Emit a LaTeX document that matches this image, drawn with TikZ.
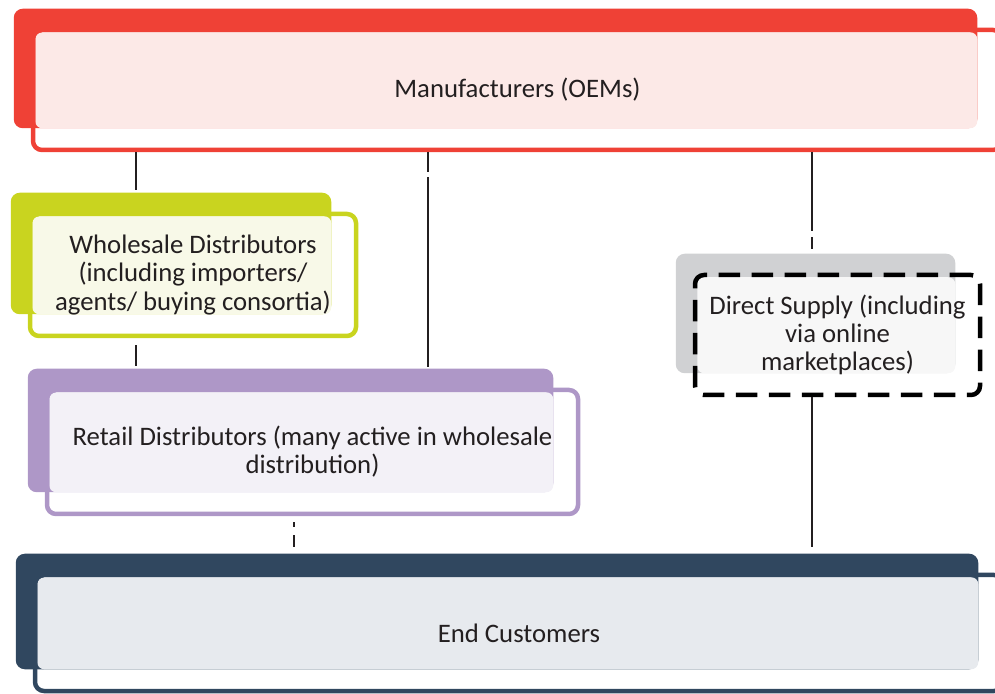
\documentclass[tikz,border=0pt]{standalone}
\usepackage{fontspec}
\setmainfont{Carlito}
\usetikzlibrary{calc, backgrounds}
\definecolor{mfrred}{HTML}{EF4136}
\definecolor{mfrtint}{HTML}{FCE9E7}
\definecolor{whlgreen}{HTML}{C9D41F}
\definecolor{whltint}{HTML}{F8F9E8}
\definecolor{retpurple}{HTML}{AE97C7}
\definecolor{rettint}{HTML}{F3F1F7}
\definecolor{dirgray}{HTML}{D0D1D3}
\definecolor{dirtint}{HTML}{F7F7F7}
\definecolor{endnavy}{HTML}{30475F}
\definecolor{endtint}{HTML}{E7EAEE}
\definecolor{inkgray}{HTML}{231F20}
\tikzstyle{tier} = [rectangle, rounded corners=0.18cm, line width=0.09cm, align=center, text=inkgray, font=\fontsize{15.2}{16}\selectfont]
\tikzstyle{link} = [line width=0.04cm, draw=inkgray]

\begin{document}
\begin{tikzpicture}
    \useasboundingbox (0,0) rectangle (19.9,13.86);
    % tiers
    \node (mfr) [tier, draw=mfrred, minimum width=19.38cm, minimum height=2.4cm] at (10.35,12.06) {Manufacturers (OEMs)};
    \node (whl) [tier, draw=whlgreen, minimum width=6.52cm, minimum height=2.44cm] at (3.86,8.36) {Wholesale Distributors\\(including importers/\\agents/ buying consortia)};
    \node (ret) [tier, draw=retpurple, minimum width=10.62cm, minimum height=2.48cm] at (6.25,4.82) {Retail Distributors (many active in wholesale\\distribution)};
    \node (dir) [tier, draw=black, dash pattern=on 0.43cm off 0.23cm, minimum width=5.7cm, minimum height=2.4cm] at (16.75,7.16) {Direct Supply (including\\via online\\marketplaces)};
    \node (end) [tier, draw=endnavy, minimum width=19.36cm, minimum height=2.32cm] at (10.38,1.2) {End Customers};

    % back plates
    \begin{scope}[on background layer]
        \foreach \n/\c/\t in {mfr/mfrred/mfrtint, whl/whlgreen/whltint, ret/retpurple/rettint, dir/dirgray/dirtint, end/endnavy/endtint} {
            \fill [\c, rounded corners=0.18cm] ($(\n.north west)+(-0.34,0.38)$) rectangle ($(\n.south east)+(-0.54,0.48)$);
            \fill [\t, rounded corners=0.14cm] ($(\n.north west)+(0.09,-0.09)$) rectangle ($(\n.south east)+(-0.54,0.48)$);
        }
    \end{scope}

    % links
    \coordinate (xw) at (2.72,0);
    \coordinate (xr) at (8.56,0);
    \coordinate (xd) at (16.23,0);
    \coordinate (xe) at (5.87,0);
    \draw [link, shorten >=0.44cm] (mfr.south -| xw) -- (whl.north -| xw);
    \draw [link, shorten <=0.14cm, shorten >=0.44cm] (whl.south -| xw) -- (ret.north -| xw);
    \draw [link, shorten >=0.42cm, dash pattern=on 0.4cm off 0.1cm on 10cm off 0cm] (mfr.south -| xr) -- (ret.north -| xr);
    \draw [link, shorten >=0.48cm, dash pattern=on 1.58cm off 0.12cm on 10cm off 0cm] (mfr.south -| xd) -- (dir.north -| xd);
    \draw [link, shorten >=0.52cm] (dir.south -| xd) -- (end.north -| xd);
    \draw [link, shorten <=0.12cm, shorten >=0.52cm, dash pattern=on 0.1cm off 0.16cm on 10cm off 0cm] (ret.south -| xe) -- (end.north -| xe);
\end{tikzpicture}
\end{document}
